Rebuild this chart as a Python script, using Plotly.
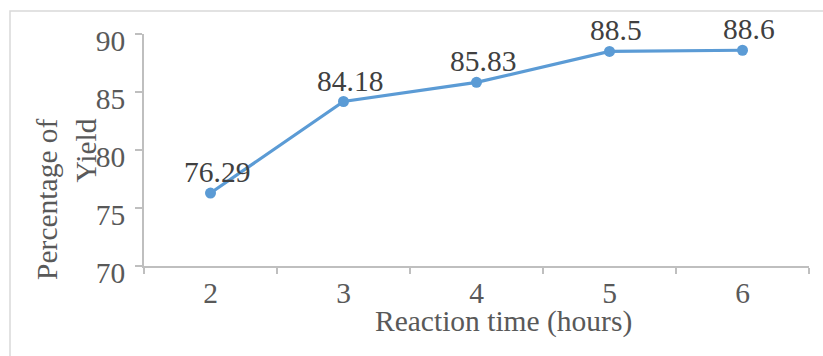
import plotly.graph_objects as go

# Reaction time (hours) vs. percentage of yield
hours = ["2", "3", "4", "5", "6"]
yield_pct = [76.29, 84.18, 85.83, 88.5, 88.6]
y_ticks = [70, 75, 80, 85, 90]

SERIF = "Liberation Serif, Times New Roman, serif"
LINE_BLUE = "#5B9BD5"
AXIS_GRAY = "#BFBFBF"
FS = 29.5

fig = go.Figure()
fig.add_trace(go.Scatter(
    x=hours,
    y=yield_pct,
    mode="lines+markers",
    line=dict(color=LINE_BLUE, width=3.2),
    marker=dict(color=LINE_BLUE, size=11),
    showlegend=False,
    hoverinfo="skip",
))

# Value labels above each point (category axis positions are indices)
for i, v in enumerate(yield_pct):
    fig.add_annotation(
        x=i, y=v, text=f"{v:g}", showarrow=False,
        xshift=6, yshift=21, yanchor="middle",
        font=dict(family=SERIF, size=FS, color="#404040"),
    )

# Axis titles
fig.add_annotation(
    xref="paper", yref="paper", x=0.541, y=-0.24,
    text="Reaction time (hours)", showarrow=False,
    xanchor="center", yanchor="middle",
    font=dict(family=SERIF, size=FS, color="#595959"),
)
fig.add_annotation(
    xref="paper", yref="paper", x=-0.117, y=0.29,
    text="Percentage of<br>Yield", showarrow=False, textangle=-90,
    align="right", xanchor="center", yanchor="middle",
    font=dict(family=SERIF, size=FS, color="#595959"),
)

# Chart-area frame
fig.add_shape(
    type="rect", xref="paper", yref="paper",
    x0=(10 - 144) / 665, x1=1.2, y0=-0.6, y1=1 + (34 - 11) / 232,
    line=dict(color="#D9D9D9", width=1.5), fillcolor="rgba(0,0,0,0)",
    layer="below",
)

fig.update_layout(
    width=823, height=356,
    margin=dict(l=144, r=14, t=34, b=90),
    paper_bgcolor="white", plot_bgcolor="white",
    font=dict(family=SERIF, color="#595959"),
)
fig.update_xaxes(
    type="category", range=[-0.5, 4.5],
    showline=True, linecolor=AXIS_GRAY, linewidth=1.5,
    ticks="outside", tickson="boundaries", ticklen=6, tickcolor=AXIS_GRAY, tickwidth=1.5,
    showgrid=False, zeroline=False,
    tickfont=dict(family=SERIF, size=FS, color="#595959"),
)
fig.update_yaxes(
    range=[70, 90], tickvals=y_ticks,
    showline=True, linecolor=AXIS_GRAY, linewidth=1.5,
    ticks="outside", ticklen=7, tickcolor=AXIS_GRAY, tickwidth=1.5,
    showgrid=False, zeroline=False,
    ticklabelshift=7, ticklabelstandoff=4,
    tickfont=dict(family=SERIF, size=FS, color="#595959"),
)

fig.write_html("out.html")
